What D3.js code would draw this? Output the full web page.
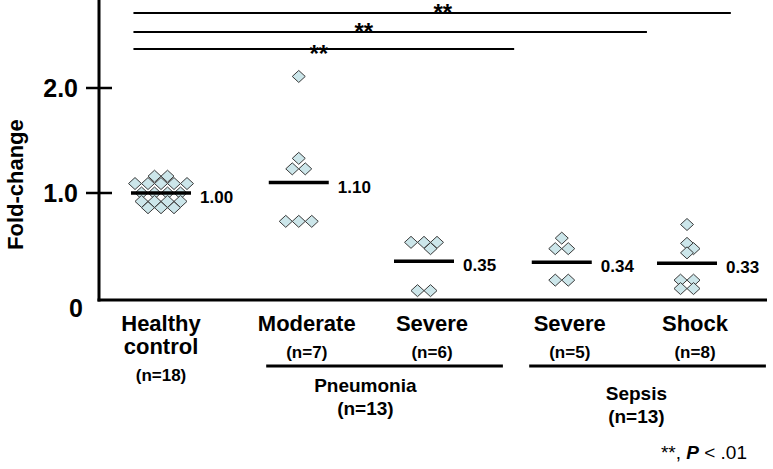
<!DOCTYPE html>
<html>
<head>
<meta charset="utf-8">
<script src="https://cdn.jsdelivr.net/npm/d3@7"></script>
<style>
    body { margin: 0; background: #fff; }
    text { font-family: "Liberation Sans", Arial, Helvetica, sans-serif; font-weight: bold; fill: #000; }
</style>
</head>
<body>
<div id="chart"></div>
<script>
// ---- data ----
const categories = [["Healthy", "control"], ["Moderate"], ["Severe"], ["Severe"], ["Shock"]];
const groupCounts = ["(n=18)", "(n=7)", "(n=6)", "(n=5)", "(n=8)"];
const healthyValues = [1.16, 1.16, 1.09, 1.09, 1.09, 1.09, 1.09, 1.00, 1.00, 1.00, 1.00, 0.92, 0.92, 0.92, 0.92, 0.86, 0.86, 0.86];
const pneuModerateValues = [2.11, 1.33, 1.23, 1.23, 0.73, 0.73, 0.73];
const pneuSevereValues = [0.53, 0.53, 0.53, 0.47, 0.07, 0.07];
const sepsisSevereValues = [0.57, 0.47, 0.47, 0.17, 0.17];
const sepsisShockValues = [0.70, 0.52, 0.47, 0.43, 0.17, 0.17, 0.09, 0.09];
const means = [1.00, 1.10, 0.35, 0.34, 0.33];
const meanLabels = ["1.00", "1.10", "0.35", "0.34", "0.33"];
const superGroups = ["Pneumonia", "Sepsis"];
const superCounts = ["(n=13)", "(n=13)"];
const superMembers = [[1, 2], [3, 4]];
const yTicks = [0, 1, 2];
const yTickLabels = ["0", "1.0", "2.0"];
const comparisons = [[0, 4], [0, 3], [0, 2]];
const sigLabel = "**";

const allValues = [healthyValues, pneuModerateValues, pneuSevereValues, sepsisSevereValues, sepsisShockValues];

// ---- layout ----
const W = 773, H = 469;
const axisX = 99;
const hw = 6.5, hh = 6; // diamond half sizes
const clusterGap = 0.1; // extra space between healthy / pneumonia / sepsis blocks

const svg = d3.select("#chart").append("svg")
    .attr("width", W)
    .attr("height", H);

// slot index of each category, with a small gap between blocks
const cluster = categories.map((c, i) => {
    const k = superMembers.findIndex(m => m.includes(i));
    return k + 1;
});
const slot = i => i + clusterGap * cluster[i];

const y = d3.scaleLinear().domain([0, 2]).range([298, 88]);
const xs = d3.scaleLinear().domain([0, 4 + 2 * clusterGap]).range([161, 687]);
const x = i => xs(slot(i));
const step = xs(1) - xs(0);

// axes
svg.append("line")
    .attr("x1", axisX).attr("x2", axisX)
    .attr("y1", 0).attr("y2", y(0) + 3.5)
    .attr("stroke", "#000").attr("stroke-width", 3);
svg.append("line")
    .attr("x1", axisX - 1.5).attr("x2", 767)
    .attr("y1", y(0) + 2).attr("y2", y(0) + 2)
    .attr("stroke", "#000").attr("stroke-width", 3);

svg.selectAll(".ytick")
    .data(yTicks.filter(d => d > 0))
    .enter().append("line")
    .attr("class", "ytick")
    .attr("x1", axisX - 13).attr("x2", axisX + 13)
    .attr("y1", d => y(d)).attr("y2", d => y(d))
    .attr("stroke", "#000").attr("stroke-width", 2.5);

svg.selectAll(".ylab")
    .data(yTicks)
    .enter().append("text")
    .attr("class", "ylab")
    .attr("x", d => d === 0 ? 83 : 78)
    .attr("y", d => d === 0 ? y(d) + 10 : y(d))
    .attr("dy", "0.36em")
    .attr("text-anchor", "end")
    .style("font-size", "25px")
    .text((d, i) => yTickLabels[i]);

svg.append("text")
    .attr("transform", `translate(23,${y(1.08)}) rotate(-90)`)
    .attr("text-anchor", "middle")
    .style("font-size", "22px")
    .text("Fold-change");

// swarm layout: rows of equal value, centred, shifted sideways to avoid overlap
function swarm(values) {
    const placed = [];
    const hits = (dx, v) => placed.some(p =>
        Math.abs(p.dx - dx) / (2 * hw) + Math.abs(y(p.v) - y(v)) / (2 * hh) < 0.68);
    d3.groups(values, d => d).forEach(([v, pts]) => {
        const base = pts.map((p, k) => (k - (pts.length - 1) / 2) * 2 * hw);
        const shifts = [0, hw, -hw, 2 * hw, -2 * hw, 3 * hw, -3 * hw];
        const s = shifts.find(s => base.every(b => !hits(b + s, v))) ?? 0;
        base.forEach(b => placed.push({ v, dx: b + s }));
    });
    const ext = d3.extent(placed, d => d.dx);
    const c = (ext[0] + ext[1]) / 2;
    placed.forEach(d => d.dx -= c);
    return placed;
}

const diamond = `M0,${-hh}L${hw},0L0,${hh}L${-hw},0Z`;

allValues.forEach((vals, gi) => {
    const g = svg.append("g").attr("class", "group");
    g.selectAll("path")
        .data(swarm(vals))
        .enter().append("path")
        .attr("d", diamond)
        .attr("transform", d => `translate(${x(gi) + d.dx},${y(d.v)})`)
        .attr("fill", "#cce6ea")
        .attr("stroke", "#3a3a3a")
        .attr("stroke-width", 1);
});

// mean bars
svg.selectAll(".mean")
    .data(means)
    .enter().append("line")
    .attr("class", "mean")
    .attr("x1", (d, i) => x(i) - 30).attr("x2", (d, i) => x(i) + 30)
    .attr("y1", d => y(d)).attr("y2", d => y(d))
    .attr("stroke", "#000").attr("stroke-width", 3.5);

svg.selectAll(".meanlab")
    .data(means)
    .enter().append("text")
    .attr("class", "meanlab")
    .attr("x", (d, i) => x(i) + 39)
    .attr("y", d => y(d) + 4)
    .attr("dy", "0.36em")
    .style("font-size", "17px")
    .text((d, i) => meanLabels[i]);

// category labels
const labelTop = 331;
categories.forEach((lines, i) => {
    const cx = x(i) + (i === 0 ? 0 : 8);
    lines.forEach((line, k) => {
        svg.append("text")
            .attr("x", cx)
            .attr("y", labelTop + k * 23)
            .attr("text-anchor", "middle")
            .style("font-size", "22px")
            .text(line);
    });
    svg.append("text")
        .attr("x", cx)
        .attr("y", labelTop + (lines.length - 1) * 23 + 27)
        .attr("text-anchor", "middle")
        .style("font-size", "17px")
        .text(groupCounts[i]);
});

// super group brackets
superGroups.forEach((name, i) => {
    const [a, b] = superMembers[i];
    const mid = (x(a) + x(b)) / 2 + 4 + i * 8;
    const ly = 366;
    svg.append("line")
        .attr("x1", x(a) - 0.26 * step).attr("x2", x(b) + 0.63 * step)
        .attr("y1", ly).attr("y2", ly)
        .attr("stroke", "#000").attr("stroke-width", 3);
    svg.append("text")
        .attr("x", mid).attr("y", ly + 26 + i * 8)
        .attr("text-anchor", "middle")
        .style("font-size", "19px")
        .text(name);
    svg.append("text")
        .attr("x", mid).attr("y", ly + 49 + i * 8)
        .attr("text-anchor", "middle")
        .style("font-size", "19px")
        .text(superCounts[i]);
});

// significance lines (ends in slot units)
const bracketEnds = [4.55, 3.88, 2.82];
const starAt = [2.25, 1.62, 1.26];
const bracketY = [13, 32, 49];
comparisons.forEach(([a, b], i) => {
    svg.append("line")
        .attr("x1", x(a) - 0.22 * step).attr("x2", xs(bracketEnds[i]))
        .attr("y1", bracketY[i]).attr("y2", bracketY[i])
        .attr("stroke", "#000").attr("stroke-width", 2.2);
    svg.append("text")
        .attr("x", xs(starAt[i]))
        .attr("y", bracketY[i] + (i === 2 ? 13 : 8))
        .attr("text-anchor", "middle")
        .style("font-size", "24px")
        .text(sigLabel);
});

// footnote
const foot = svg.append("text")
    .attr("x", 747).attr("y", 459)
    .attr("text-anchor", "end")
    .style("font-size", "19px")
    .style("font-weight", "normal");
foot.append("tspan").text("**, ");
foot.append("tspan").style("font-style", "italic").style("font-weight", "bold").text("P");
foot.append("tspan").text(" < .01");
</script>
</body>
</html>
